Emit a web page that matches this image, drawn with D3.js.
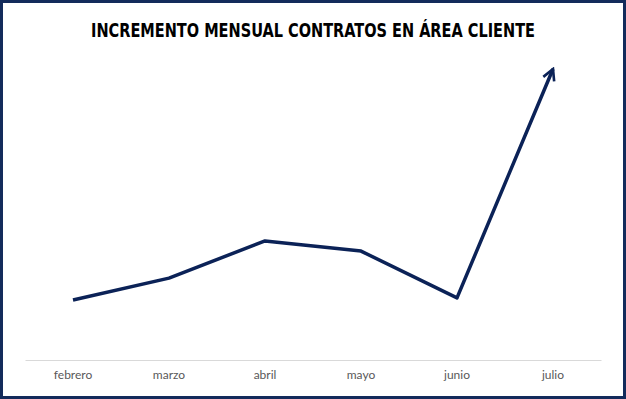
<!DOCTYPE html>
<html><head><meta charset="utf-8">
<script src="https://cdn.jsdelivr.net/npm/d3@7"></script>
<style>html,body{margin:0;padding:0;background:#fff;}</style>
</head><body>
<script>
const categories = ["febrero","marzo","abril","mayo","junio","julio"];
const values = [20, 27.3, 39.7, 36.3, 20.7, 97];
const title = "INCREMENTO MENSUAL CONTRATOS EN ÁREA CLIENTE";

const W = 626, H = 399;
const svg = d3.select("body").append("svg").attr("width", W).attr("height", H);

svg.append("rect").attr("x",1.5).attr("y",1.5).attr("width",W-3).attr("height",H-3)
  .attr("fill","#fff").attr("stroke","#132b5b").attr("stroke-width",3);

svg.append("text").attr("x",313).attr("y",37).attr("text-anchor","middle")
  .attr("font-family","'Liberation Sans Narrow', 'DejaVu Sans Condensed', sans-serif")
  .attr("font-weight","bold").attr("font-size",19).attr("fill","#000")
  .attr("textLength",444).attr("lengthAdjust","spacingAndGlyphs")
  .text(title);

const x = d3.scaleBand().domain(categories).range([25,601]);
const y = d3.scaleLinear().domain([0,100]).range([360,60]);

// baseline
const ax = svg.append("g").attr("transform","translate(0,360)")
  .call(d3.axisBottom(x).tickSize(0).tickPadding(0));
ax.select(".domain").attr("stroke","#d9d9d9").attr("stroke-width",1);
ax.selectAll("text").attr("font-family","Lato, 'Open Sans', sans-serif")
  .attr("font-size",12).attr("fill","#595959").attr("dy","1.55em");

const defs = svg.append("defs");
defs.append("marker").attr("id","arr").attr("viewBox","0 0 10 10")
  .attr("refX",8.5).attr("refY",5).attr("markerWidth",4.2).attr("markerHeight",4.2)
  .attr("orient","auto").attr("markerUnits","strokeWidth")
  .append("path").attr("d","M1,1 L8.5,5 L1,9").attr("fill","none")
  .attr("stroke","#0b2257").attr("stroke-width",1.8).attr("stroke-linejoin","miter");

const line = d3.line().x((d,i)=>x(categories[i])+x.bandwidth()/2).y(d=>y(d));
svg.append("path").datum(values).attr("d",line).attr("fill","none")
  .attr("stroke","#0b2257").attr("stroke-width",3.5).attr("stroke-linejoin","round")
  .attr("marker-end","url(#arr)");
</script>
</body></html>
